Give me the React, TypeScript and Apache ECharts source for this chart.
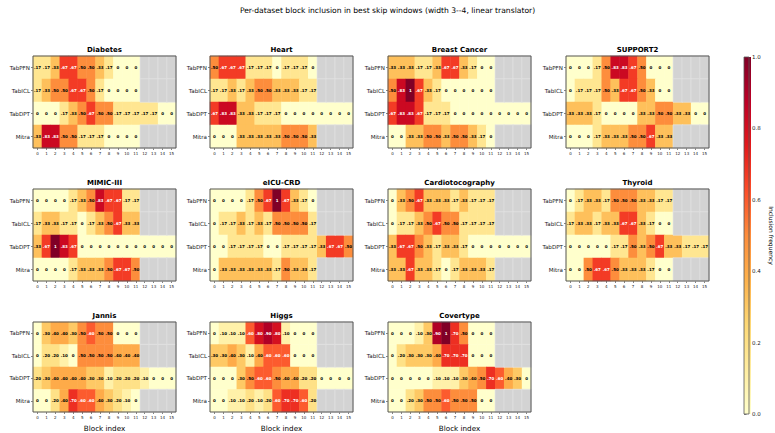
import { useEffect, useRef } from 'react';
import * as echarts from 'echarts';

const TITLE = 'Per-dataset block inclusion in best skip windows (width 3--4, linear translator)';
const models = ['TabPFN', 'TabICL', 'TabDPT', 'Mitra'];
const blocks = ['0', '1', '2', '3', '4', '5', '6', '7', '8', '9', '10', '11', '12', '13', '14', '15'];
const datasetNames = ['Diabetes', 'Heart', 'Breast Cancer', 'SUPPORT2', 'MIMIC-III', 'eICU-CRD', 'Cardiotocography', 'Thyroid', 'Jannis', 'Higgs', 'Covertype'];
const N = null;

// rows: TabPFN, TabICL, TabDPT, Mitra ; null = block not available
const diabetes = [
  [0.17, 0.17, 0.33, 0.67, 0.67, 0.5, 0.5, 0.33, 0.17, 0, 0, 0, N, N, N, N],
  [0.17, 0.33, 0.5, 0.5, 0.67, 0.67, 0.5, 0.17, 0, 0, 0, 0, N, N, N, N],
  [0, 0, 0, 0.17, 0.33, 0.5, 0.67, 0.5, 0.5, 0.17, 0.17, 0.17, 0.17, 0.17, 0, 0],
  [0.33, 0.83, 0.83, 0.5, 0.5, 0.17, 0.17, 0.17, 0, 0, 0, 0, N, N, N, N],
];
const heart = [
  [0.5, 0.67, 0.67, 0.67, 0.17, 0.17, 0.17, 0, 0.17, 0.17, 0.17, 0, N, N, N, N],
  [0.17, 0.17, 0.33, 0.17, 0.33, 0.5, 0.5, 0.33, 0.33, 0.33, 0.17, 0.17, N, N, N, N],
  [0.67, 0.83, 0.83, 0.33, 0.33, 0.17, 0.17, 0.17, 0, 0, 0, 0, 0, 0, 0, 0],
  [0, 0, 0, 0.33, 0.33, 0.33, 0.33, 0.33, 0.5, 0.5, 0.5, 0.33, N, N, N, N],
];
const breastCancer = [
  [0.33, 0.33, 0.33, 0.17, 0.17, 0.33, 0.67, 0.67, 0.33, 0.17, 0, 0, N, N, N, N],
  [0.5, 0.83, 1, 0.67, 0.33, 0.17, 0, 0, 0, 0, 0, 0, N, N, N, N],
  [0.67, 0.83, 0.83, 0.67, 0.17, 0.17, 0.17, 0, 0, 0, 0, 0, 0, 0, 0, 0],
  [0, 0, 0.33, 0.33, 0.5, 0.5, 0.33, 0.5, 0.5, 0.33, 0.17, 0, N, N, N, N],
];
const support2 = [
  [0, 0, 0, 0.17, 0.5, 0.83, 0.83, 0.67, 0.5, 0, 0, 0, N, N, N, N],
  [0, 0.17, 0.17, 0.17, 0.5, 0.33, 0.67, 0.67, 0.5, 0.33, 0, 0, N, N, N, N],
  [0.33, 0.33, 0.33, 0.17, 0, 0, 0, 0, 0.33, 0.33, 0.5, 0.5, 0.33, 0.33, 0, 0],
  [0, 0, 0, 0.17, 0.33, 0.33, 0.33, 0.5, 0.5, 0.67, 0.33, 0.33, N, N, N, N],
];
const mimic = [
  [0, 0, 0, 0, 0.17, 0.33, 0.5, 0.83, 0.67, 0.67, 0.17, 0.17, N, N, N, N],
  [0.17, 0.33, 0.33, 0.17, 0.17, 0, 0.17, 0.33, 0.5, 0.67, 0.33, 0.33, N, N, N, N],
  [0.33, 0.67, 1, 0.83, 0.67, 0, 0, 0, 0, 0, 0, 0, 0, 0, 0, 0],
  [0, 0, 0, 0, 0.17, 0.33, 0.33, 0.33, 0.5, 0.67, 0.67, 0.5, N, N, N, N],
];
const eicu = [
  [0, 0, 0, 0, 0.17, 0.5, 0.67, 1, 0.67, 0.33, 0.17, 0, N, N, N, N],
  [0, 0.17, 0.17, 0.33, 0.17, 0.33, 0.17, 0.5, 0.5, 0.5, 0.5, 0.17, N, N, N, N],
  [0, 0, 0.17, 0.17, 0.17, 0.17, 0, 0, 0.17, 0.17, 0.17, 0.17, 0.33, 0.67, 0.67, 0.5],
  [0, 0.33, 0.33, 0.33, 0.33, 0.33, 0.33, 0.17, 0.5, 0.33, 0.33, 0.17, N, N, N, N],
];
const cardio = [
  [0, 0.33, 0.5, 0.67, 0.33, 0.33, 0.33, 0.17, 0.33, 0.17, 0.17, 0.17, N, N, N, N],
  [0, 0.17, 0.17, 0.33, 0.5, 0.67, 0.5, 0.5, 0.17, 0.17, 0.17, 0.17, N, N, N, N],
  [0.33, 0.67, 0.67, 0.5, 0.33, 0.17, 0.33, 0.33, 0.17, 0, 0, 0, 0, 0, 0, 0],
  [0.33, 0.33, 0.67, 0.33, 0.33, 0.17, 0, 0.17, 0.33, 0.33, 0.33, 0.17, N, N, N, N],
];
const thyroid = [
  [0, 0.17, 0.33, 0.33, 0.17, 0.5, 0.5, 0.5, 0.33, 0.33, 0.17, 0.17, N, N, N, N],
  [0.17, 0.33, 0.33, 0.17, 0.33, 0.33, 0.67, 0.67, 0.33, 0.17, 0, 0, N, N, N, N],
  [0, 0, 0, 0, 0, 0.17, 0.17, 0.5, 0.33, 0.5, 0.67, 0.33, 0.33, 0.17, 0.17, 0.17],
  [0, 0, 0.5, 0.67, 0.67, 0.5, 0.33, 0.33, 0.33, 0.17, 0, 0, N, N, N, N],
];
const jannis = [
  [0, 0.3, 0.4, 0.4, 0.3, 0.5, 0.6, 0.5, 0.5, 0, 0, 0, N, N, N, N],
  [0, 0.2, 0.2, 0.1, 0, 0.5, 0.5, 0.5, 0.5, 0.4, 0.4, 0.4, N, N, N, N],
  [0.2, 0.3, 0.4, 0.4, 0.4, 0.4, 0.3, 0.3, 0.1, 0.2, 0.2, 0.2, 0.1, 0, 0, 0],
  [0, 0, 0.2, 0.4, 0.7, 0.6, 0.6, 0.4, 0.3, 0.2, 0.1, 0, N, N, N, N],
];
const higgs = [
  [0, 0.1, 0.1, 0.1, 0.6, 0.8, 0.9, 0.8, 0.1, 0, 0, 0, N, N, N, N],
  [0.3, 0.3, 0.4, 0.3, 0.1, 0.4, 0.6, 0.6, 0.6, 0, 0, 0, N, N, N, N],
  [0, 0, 0, 0.3, 0.5, 0.6, 0.6, 0.5, 0.4, 0.4, 0.2, 0.2, 0, 0, 0, 0],
  [0, 0, 0.1, 0.1, 0.2, 0.1, 0.2, 0.6, 0.7, 0.7, 0.6, 0.2, N, N, N, N],
];
const covertype = [
  [0, 0, 0, 0.1, 0.3, 0.9, 1, 0.7, 0.5, 0, 0, 0, N, N, N, N],
  [0, 0.2, 0.3, 0.3, 0.3, 0.4, 0.7, 0.7, 0.7, 0, 0, 0, N, N, N, N],
  [0, 0, 0, 0, 0, 0.1, 0.1, 0.1, 0.3, 0.4, 0.5, 0.7, 0.6, 0.4, 0.3, 0],
  [0, 0, 0.2, 0.3, 0.5, 0.5, 0.6, 0.5, 0.5, 0.5, 0, 0, N, N, N, N],
];
const datasets = [diabetes, heart, breastCancer, support2, mimic, eicu, cardio, thyroid, jannis, higgs, covertype];

const ylOrRd = ['#ffffcc', '#ffeda0', '#fed976', '#feb24c', '#fd8d3c', '#fc4e2a', '#e31a1c', '#bd0026', '#800026'];

const FONT = 'DejaVu Sans';
const colLeft = [33, 210, 388, 566];
const rowTop = [56, 189, 322];
const W = 143;
const H = 92;

function fmt(v: number) {
  if (v === 0) return '0';
  if (v === 1) return '1';
  return v.toFixed(2).replace(/^0/, '');
}

export default function App() {
  const ref = useRef<HTMLDivElement>(null);
  useEffect(() => {
    if (!ref.current) return;
    const chart = echarts.init(ref.current, undefined, { renderer: 'svg' });
    const grids: any[] = [];
    const xAxes: any[] = [];
    const yAxes: any[] = [];
    const series: any[] = [];
    const titles: any[] = [{
      text: TITLE, left: 'center', top: 6, padding: 0,
      textStyle: { fontFamily: FONT, fontSize: 7.6, fontWeight: 'normal', color: '#000' },
    }];
    const valueSeriesIdx: number[] = [];
    const graySeriesIdx: number[] = [];

    datasets.forEach((ds, i) => {
      const r = Math.floor(i / 4);
      const c = i % 4;
      const left = colLeft[c];
      const top = rowTop[r];
      grids.push({
        left, top, width: W, height: H, show: true, backgroundColor: 'transparent',
        borderColor: '#555', borderWidth: 1, z: 5,
      });
      titles.push({
        text: datasetNames[i], left: left + W / 2, top: top - 10, textAlign: 'center', padding: 0,
        textStyle: { fontFamily: FONT, fontSize: 7, fontWeight: 'bold', color: '#000' },
      });
      xAxes.push({
        type: 'category', gridIndex: i, data: blocks,
        axisLine: { show: false },
        axisTick: { show: true, alignWithLabel: true, length: 2, lineStyle: { color: '#333', width: 0.6 } },
        axisLabel: { fontFamily: FONT, fontSize: 4, color: '#222', margin: 3, interval: 0 },
        splitLine: { show: false },
        name: r === 2 ? 'Block index' : '', nameLocation: 'middle', nameGap: 13,
        nameTextStyle: { fontFamily: FONT, fontSize: 7.2, color: '#000' },
      });
      yAxes.push({
        type: 'category', gridIndex: i, data: models, inverse: true,
        axisLine: { show: false },
        axisTick: { show: true, alignWithLabel: true, length: 2, lineStyle: { color: '#333', width: 0.6 } },
        axisLabel: { fontFamily: FONT, fontSize: 5.6, color: '#222', margin: 3 },
        splitLine: { show: false },
      });
      const vals: any[] = [];
      const gray: any[] = [];
      ds.forEach((row, y) => {
        row.forEach((v, x) => {
          if (v === null) {
            gray.push([x, y, 0]);
          } else {
            vals.push({
              value: [x, y, v],
              label: { color: v > 0.55 ? '#ffffff' : '#000000' },
            });
          }
        });
      });
      valueSeriesIdx.push(series.length);
      series.push({
        type: 'heatmap', xAxisIndex: i, yAxisIndex: i, data: vals, z: 2,
        label: {
          show: true, fontFamily: FONT, fontSize: 4, fontWeight: 'bold',
          formatter: (p: any) => fmt(p.value[2]),
        },
        itemStyle: { borderWidth: 0 },
        emphasis: { disabled: true },
      });
      graySeriesIdx.push(series.length);
      series.push({
        type: 'heatmap', xAxisIndex: i, yAxisIndex: i, data: gray, z: 2,
        label: { show: false },
        itemStyle: { borderColor: '#e8e8e8', borderWidth: 0.6 },
        emphasis: { disabled: true },
      });
    });

    // colorbar
    const cbIndex = datasets.length;
    const cbLeft = 744, cbTop = 57, cbW = 7, cbH = 357;
    grids.push({
      left: cbLeft, top: cbTop, width: cbW, height: cbH, show: true,
      backgroundColor: 'transparent', borderColor: '#555', borderWidth: 0.8, z: 5,
    });
    xAxes.push({ type: 'value', gridIndex: cbIndex, show: false, min: 0, max: 1 });
    yAxes.push({
      type: 'value', gridIndex: cbIndex, position: 'right', min: 0, max: 1, interval: 0.2,
      axisLine: { show: false },
      axisTick: { show: true, length: 2.5, lineStyle: { color: '#333', width: 0.6 } },
      axisLabel: {
        fontFamily: FONT, fontSize: 5.5, color: '#222', margin: 3,
        formatter: (v: number) => v.toFixed(1),
      },
      splitLine: { show: false },
      name: 'Inclusion frequency', nameLocation: 'middle', nameGap: 19, nameRotate: -90,
      nameTextStyle: { fontFamily: FONT, fontSize: 6, color: '#000' },
    });
    series.push({ type: 'line', xAxisIndex: cbIndex, yAxisIndex: cbIndex, data: [], silent: true });

    chart.setOption({
      animation: false,
      backgroundColor: '#ffffff',
      title: titles,
      grid: grids,
      xAxis: xAxes,
      yAxis: yAxes,
      visualMap: [{
        type: 'continuous', show: false, min: 0, max: 1, dimension: 2,
        seriesIndex: valueSeriesIdx,
        inRange: { color: ylOrRd },
      }, {
        type: 'continuous', show: false, min: 0, max: 1, dimension: 2,
        seriesIndex: graySeriesIdx,
        inRange: { color: ['#d3d3d3', '#d3d3d3'] },
      }],
      graphic: [{
        type: 'rect', z: 1,
        shape: { x: cbLeft, y: cbTop, width: cbW, height: cbH },
        style: {
          fill: new echarts.graphic.LinearGradient(0, 1, 0, 0,
            ylOrRd.map((col, k) => ({ offset: k / (ylOrRd.length - 1), color: col }))),
        },
      }],
      series,
    });
    return () => chart.dispose();
  }, []);
  return <div ref={ref} style={{ width: 775, height: 433, position: 'absolute', left: 0, top: 0 }} />;
}
